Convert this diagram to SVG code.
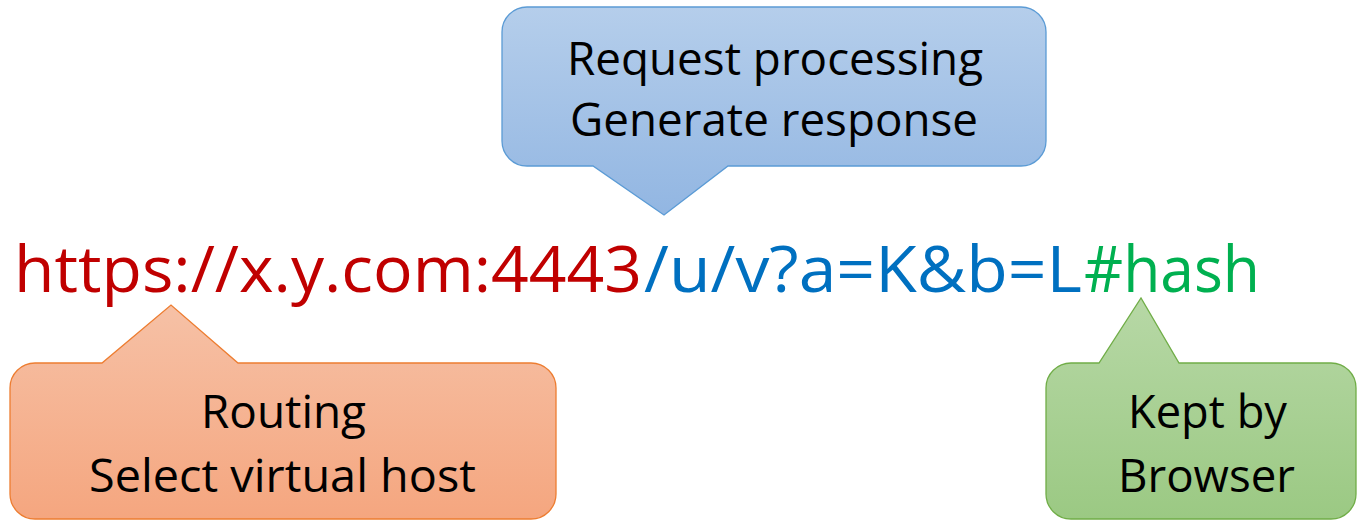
<svg xmlns="http://www.w3.org/2000/svg" width="1357" height="520" viewBox="0 0 1357 520">
  <defs>
    <linearGradient id="gBlue" x1="0" y1="0" x2="0" y2="1">
      <stop offset="0" stop-color="#B5CEEB"/>
      <stop offset="1" stop-color="#92B6E2"/>
    </linearGradient>
    <linearGradient id="gOrange" x1="0" y1="0" x2="0" y2="1">
      <stop offset="0" stop-color="#F6C1A6"/>
      <stop offset="1" stop-color="#F5A67F"/>
    </linearGradient>
    <linearGradient id="gGreen" x1="0" y1="0" x2="0" y2="1">
      <stop offset="0" stop-color="#B7D8A6"/>
      <stop offset="1" stop-color="#9BC983"/>
    </linearGradient>
  </defs>
  <style>
    .lbl { font-family: "Open Sans", "Noto Sans", sans-serif; font-size: 45px; fill: #000; }
    .url { font-family: "Open Sans", "Noto Sans", sans-serif; font-size: 64px; }
    .shape { stroke-width: 1.3; }
  </style>
  <rect width="1357" height="520" fill="#FFFFFF"/>

  <g id="url">
    <text class="url" x="14" y="292" fill="#C00000" textLength="628" lengthAdjust="spacingAndGlyphs">https://x.y.com:4443</text>
    <text class="url" x="644" y="292" fill="#0070C0" textLength="438" lengthAdjust="spacingAndGlyphs">/u/v?a=K&amp;b=L</text>
    <text class="url" x="1084" y="292" fill="#00B050" textLength="176" lengthAdjust="spacingAndGlyphs">#hash</text>
  </g>

  <g id="request-processing">
    <path class="shape" fill="url(#gBlue)" stroke="#5B9BD5" d="M 527,7 H 1021 A 25 25 0 0 1 1046,32 V 141 A 25 25 0 0 1 1021,166 H 728 L 664,215 L 593,166 H 527 A 25 25 0 0 1 502,141 V 32 A 25 25 0 0 1 527,7 Z"/>
    <text class="lbl" x="567" y="75" textLength="416" lengthAdjust="spacingAndGlyphs">Request processing</text>
    <text class="lbl" x="570" y="136" textLength="408" lengthAdjust="spacingAndGlyphs">Generate response</text>
  </g>

  <g id="routing">
    <path class="shape" fill="url(#gOrange)" stroke="#ED7D31" d="M 35,363 H 102 L 171,305 L 238,363 H 531 A 25 25 0 0 1 556,388 V 494 A 25 25 0 0 1 531,519 H 35 A 25 25 0 0 1 10,494 V 388 A 25 25 0 0 1 35,363 Z"/>
    <text class="lbl" x="201" y="428" textLength="165" lengthAdjust="spacingAndGlyphs">Routing</text>
    <text class="lbl" x="89" y="492" textLength="387" lengthAdjust="spacingAndGlyphs">Select virtual host</text>
  </g>

  <g id="kept-by-browser">
    <path class="shape" fill="url(#gGreen)" stroke="#70AD47" d="M 1071,363 H 1099 L 1141,298 L 1179,363 H 1331 A 25 25 0 0 1 1356,388 V 494 A 25 25 0 0 1 1331,519 H 1071 A 25 25 0 0 1 1046,494 V 388 A 25 25 0 0 1 1071,363 Z"/>
    <text class="lbl" x="1128" y="428" textLength="159" lengthAdjust="spacingAndGlyphs">Kept by</text>
    <text class="lbl" x="1118" y="492" textLength="177" lengthAdjust="spacingAndGlyphs">Browser</text>
  </g>

  <g id="connectors"></g>
</svg>
